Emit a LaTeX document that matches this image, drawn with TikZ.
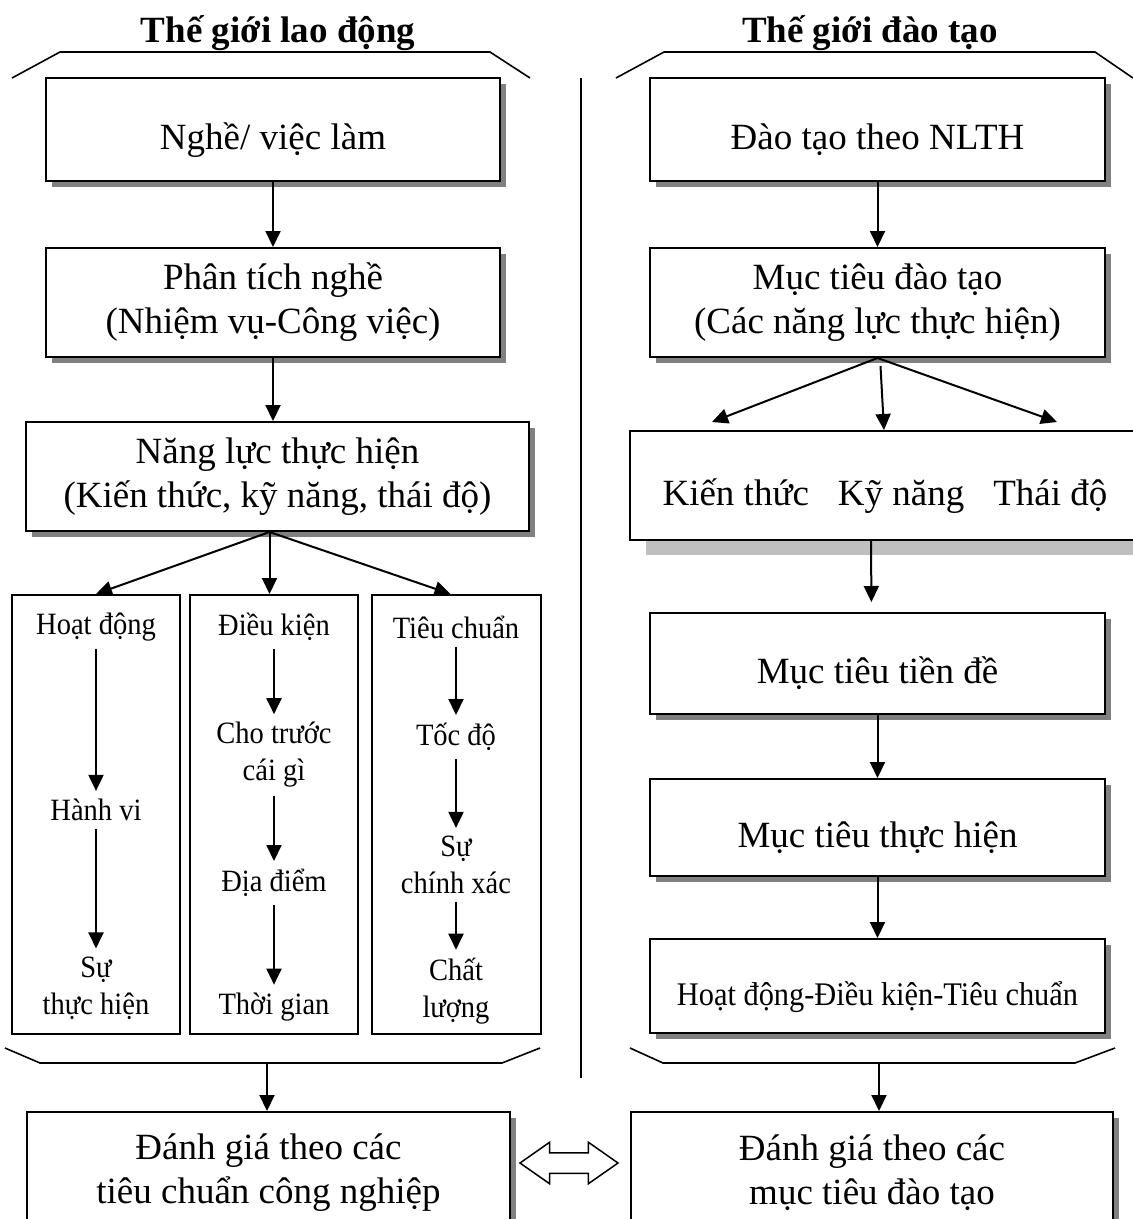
\documentclass[tikz,border=0pt]{standalone}
\usepackage{fontspec}
\setmainfont{Liberation Serif}
\newfontfamily\narrowfont{Liberation Serif}[FakeStretch=0.92]
\usetikzlibrary{arrows.meta,shadows,shapes.arrows}

\begin{document}
\begin{tikzpicture}[x=1pt, y=-1pt, >={Triangle[length=16pt,width=15pt]},
    boxbase/.style={draw, line width=2pt, fill=white, align=center, inner sep=0pt,
        font=\fontsize{37}{44}\selectfont},
    box/.style={boxbase, general shadow={fill=black!50, shadow xshift=6pt, shadow yshift=-6pt}},
    kbox/.style={boxbase, general shadow={fill=black!25, shadow xshift=16pt, shadow yshift=-15pt}},
    oneline/.style={text height=47pt, text depth=8pt},
    col/.style={draw, line width=2pt, minimum width=168pt, minimum height=439pt, inner sep=0pt},
    item/.style={align=center, inner sep=8pt, font=\narrowfont\fontsize{31}{37}\selectfont},
    heading/.style={anchor=base, font=\bfseries\fontsize{37}{40}\selectfont},
    link/.style={->, line width=2pt},
    brace/.style={line width=1.6pt}]
\useasboundingbox (0,0) rectangle (1133,1219);
\clip (0,0) rectangle (1133,1219);

% headings and brackets
\node[heading] (hl) at (278,42) {Thế giới lao động};
\node[heading] (hr) at (870,42) {Thế giới đào tạo};
\draw[brace] (12,78)--(60,52)--(490,52)--(530,78);
\draw[brace] (616,78)--(664,52)--(1095,52)--(1133,78);
\draw[brace] (5,1048)--(40,1063)--(502,1063)--(540,1048);
\draw[brace] (630,1048)--(663,1063)--(1075,1063)--(1115,1048);
\draw[line width=1.6pt] (581,78)--(581,1078);

% left side
\node[box, oneline, minimum width=454pt, minimum height=103pt] (nghe) at (273,129.5) {Nghề/ việc làm};
\node[box, minimum width=454pt, minimum height=109pt] (phantich) at (273,302.5) {Phân tích nghề\\(Nhiệm vụ-Công việc)};
\node[box, minimum width=503pt, minimum height=109pt] (nangluc) at (277.5,476.5) {Năng lực thực hiện\\(Kiến thức, kỹ năng, thái độ)};
\node[col] (colA) at (96,814.5) {};
\node[col] (colB) at (274,814.5) {};
\node[col, minimum width=169pt] (colC) at (456.5,814.5) {};

\node[item] (hd) at (96,627) {Hoạt động};
\node[item] (hv) at (96,810) {Hành vi};
\node[item] (sth) at (96,988) {Sự\\thực hiện};
\node[item] (dk) at (274,627) {Điều kiện};
\node[item] (ct) at (274,755) {Cho trước\\cái gì};
\node[item] (dd) at (274,883) {Địa điểm};
\node[item] (tg) at (274,1007) {Thời gian};
\node[item] (tc) at (456,627) {Tiêu chuẩn};
\node[item] (td) at (456,737) {Tốc độ};
\node[item] (scx) at (456,865) {Sự\\chính xác};
\node[item] (cl) at (456,991) {Chất\\lượng};

\draw[link] (nghe) -- (phantich);
\draw[link] (phantich.south) -- (phantich.south |- nangluc.north);
\coordinate (apex) at ([xshift=-8pt]nangluc.south);
\draw[link] (apex) -- (colA.north);
\draw[link] (apex) -- (apex |- colB.north);
\draw[link] (apex) -- ([xshift=-6pt]colC.north);
\draw[link] (hd) -- (hv);
\draw[link] (hv) -- (sth);
\draw[link] (dk) -- (ct);
\draw[link] (ct) -- (dd);
\draw[link] (dd) -- (tg);
\draw[link] (tc) -- (td);
\draw[link] (td) -- (scx);
\draw[link] (scx) -- (cl);

% right side
\node[box, oneline, minimum width=455pt, minimum height=103pt] (daotao) at (877.5,129.5) {Đào tạo theo NLTH};
\node[box, minimum width=455pt, minimum height=109pt] (muctieu) at (877.5,302.5) {Mục tiêu đào tạo\\(Các năng lực thực hiện)};
\node[kbox, oneline, minimum width=510pt, minimum height=109pt] (kns) at (885,485.5) {Kiến thức\hspace{29pt}Kỹ năng\hspace{29pt}Thái độ};
\coordinate (kL) at (712,422);
\coordinate (kR) at (1057,422);
\node[box, oneline, minimum width=455pt, minimum height=101pt] (tiende) at (877.5,663.5) {Mục tiêu tiền đề};
\node[box, oneline, minimum width=455pt, minimum height=97pt] (thuchien) at (877.5,827.5) {Mục tiêu thực hiện};
\node[box, oneline, minimum width=455pt, minimum height=94pt, font=\narrowfont\fontsize{33}{40}\selectfont] (hdktc) at (877.5,986) {Hoạt động-Điều kiện-Tiêu chuẩn};

\draw[link] (daotao) -- (muctieu);
\draw[link] (muctieu.south) -- (kL);
\draw[link] (muctieu.south) -- (kR);
\draw[link] ([xshift=3pt, yshift=-8pt]muctieu.south) -- ([xshift=-1pt]kns.north);
\draw[link, shorten >=10pt] ([xshift=-14pt]kns.south) -- ([xshift=-6pt]tiende.north);
\draw[link] (tiende) -- (thuchien);
\draw[link] (thuchien) -- (hdktc);

% evaluation
\node[box, minimum width=483pt, minimum height=122pt] (evalL) at (268.5,1173) {Đánh giá theo các\\tiêu chuẩn công nghiệp};
\node[box, minimum width=482pt, minimum height=122pt] (evalR) at (872,1173) {Đánh giá theo các\\mục tiêu đào tạo};
\coordinate (bL) at (267,1063);
\coordinate (bR) at (879,1063);
\draw[link] (bL) -- (bL |- evalL.north);
\draw[link] (bR) -- (bR |- evalR.north);
\node[draw, line width=1.5pt, double arrow, double arrow head extend=10.5pt, double arrow tip angle=70,
    minimum width=40pt, minimum height=98pt, inner xsep=0pt, inner ysep=9.5pt] (equiv) at (569,1163) {};

\end{tikzpicture}
\end{document}
